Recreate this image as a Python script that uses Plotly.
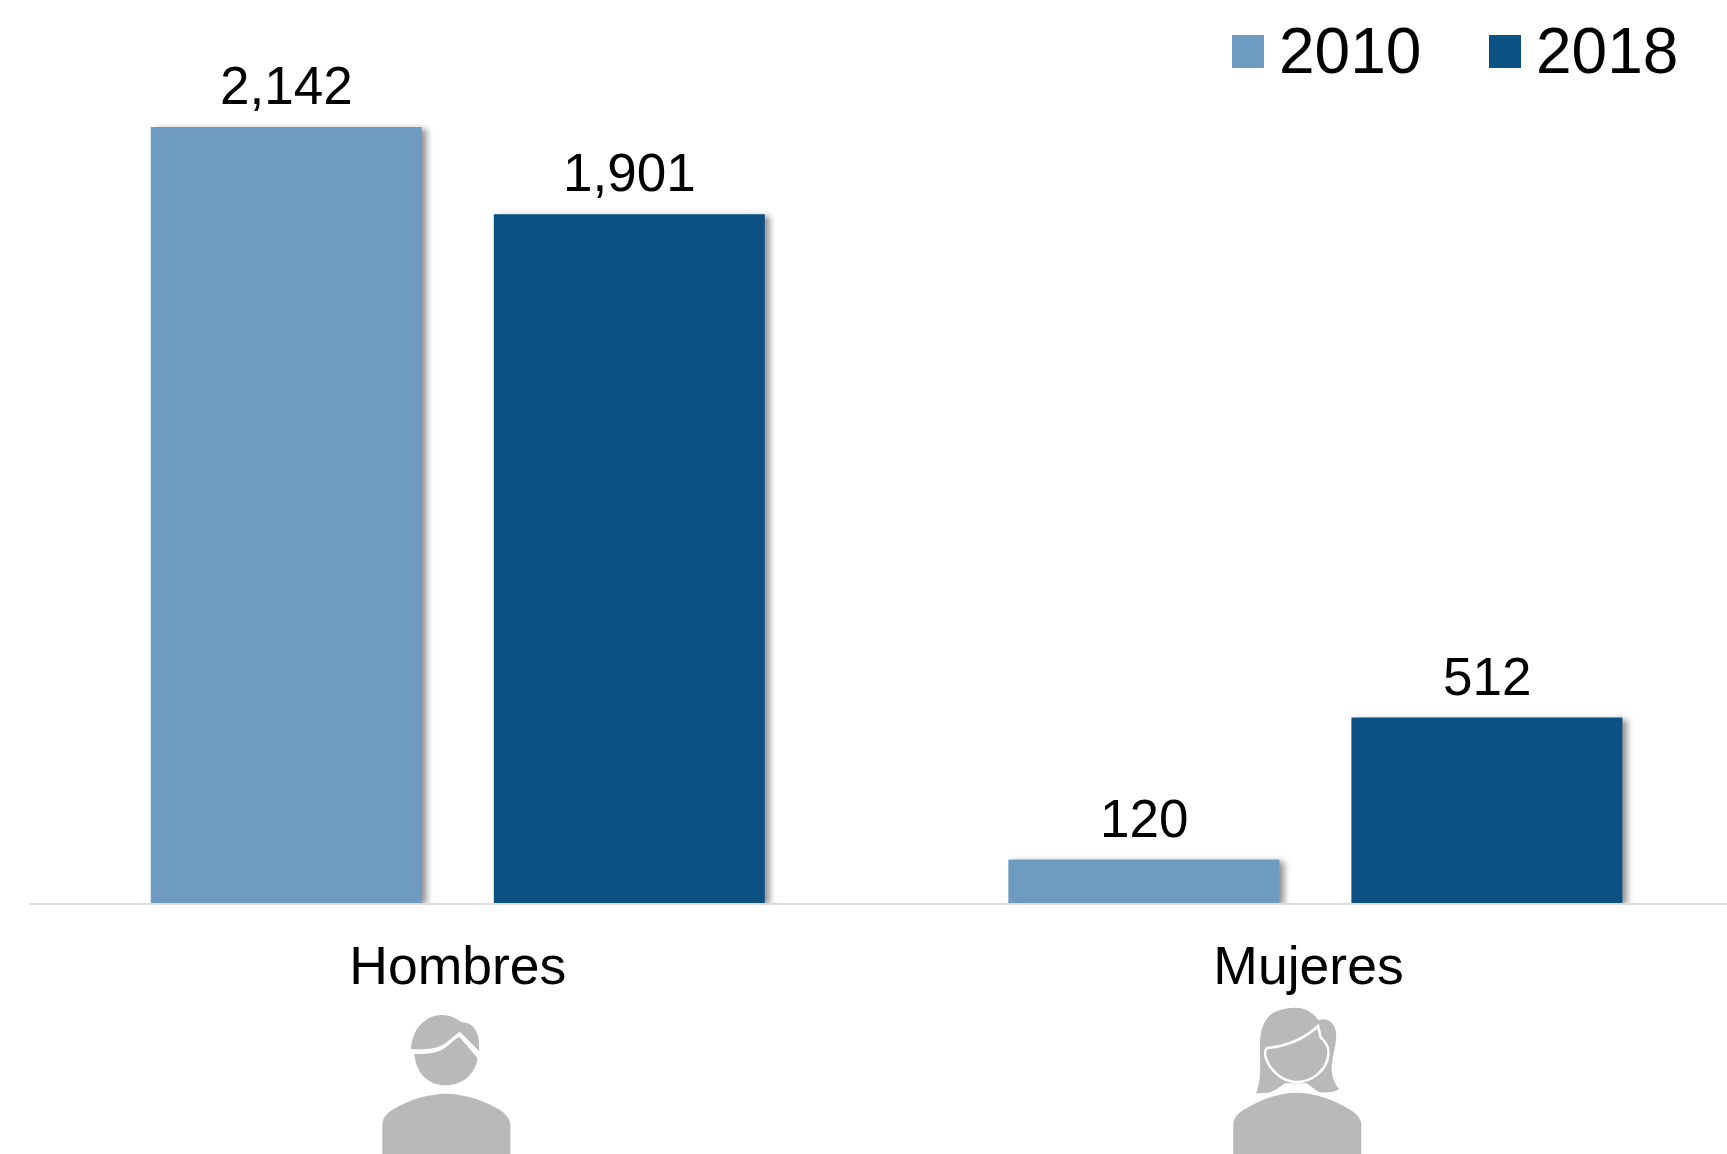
import plotly.graph_objects as go

categories = ["Hombres", "Mujeres"]
series_names = ["2010", "2018"]
values_2010 = [2142, 120]
values_2018 = [1901, 512]
color_2010 = "#6F9BC3"
color_2018 = "#0B5184"
icon_gray = "#B9B9B9"
font_name = "Liberation Sans, Arial, sans-serif"

W, H = 1727, 1154
ML, MB = 29, 251
BARGAP, GROUPGAP = 0.2, 0.21


def px(path, ox, oy, scale=1 / 3):
    """Convert a decoration path (zoom pixels) to paper coordinates."""
    out = []
    tokens = path.split()
    i = 0
    while i < len(tokens):
        t = tokens[i]
        if t.isalpha():
            out.append(t)
            i += 1
        else:
            x = ox + float(t) * scale
            y = oy + float(tokens[i + 1]) * scale
            out.append(f"{(x - ML) / (W - ML):.5f},{1 - y / (H - MB):.5f}")
            i += 2
    return " ".join(out)


def deco(path, ox, oy, fill=icon_gray, line=None, lw=0):
    return dict(type="path", xref="paper", yref="paper", path=px(path, ox, oy),
                fillcolor=fill, line=dict(color=line or fill, width=lw), layer="above")


male_hair = "M 213 207 C 215 150 255 105 305 105 C 330 105 350 115 365 127 C 395 125 415 150 417 190 L 417 213 L 360 155 C 335 170 320 195 285 203 C 265 208 235 208 213 207 Z"
male_face = "M 223 222 C 250 222 280 220 300 212 C 325 200 340 180 358 170 L 413 235 C 405 285 365 316 318 316 C 265 316 228 280 223 222 Z"
male_body = "M 127 522 L 127 435 C 127 415 140 400 160 388 C 205 360 265 341 318 341 C 375 341 440 365 480 390 C 500 403 511 418 511 435 L 511 522 Z"
female_hair = "M 198 340 C 210 310 212 280 210 230 C 208 180 210 140 235 110 C 260 85 320 75 350 90 C 365 97 378 110 385 120 C 410 112 432 125 438 155 C 442 190 425 230 425 265 C 425 295 435 310 447 328 C 430 338 405 340 385 335 C 375 330 365 320 350 310 L 285 310 C 265 325 250 335 235 338 Z"
female_face = "M 232 204 C 300 197 345 175 384 138 L 392 172 C 410 188 418 205 415 225 C 410 272 365 306 320 306 C 278 306 236 270 226 228 C 224 216 226 208 232 204 Z"
female_body = "M 130 522 L 130 435 C 130 415 143 400 163 388 C 210 360 265 338 320 338 C 375 338 440 362 482 390 C 502 403 514 418 514 435 L 514 522 Z"

shapes = [
    deco(male_hair, 340, 980), deco(male_face, 340, 980), deco(male_body, 340, 980),
    deco(female_hair, 1190, 980),
    deco(female_face, 1190, 980, line="#FFFFFF", lw=2.5),
    deco(female_body, 1190, 980),
]

# legend swatches and labels
legend_items = [(series_names[0], color_2010, 1232), (series_names[1], color_2018, 1489)]
annotations = []
for name, col, lx in legend_items:
    shapes.append(dict(type="rect", xref="paper", yref="paper",
                       x0=(lx - ML) / (W - ML), x1=(lx + 32 - ML) / (W - ML),
                       y0=1 - 68 / (H - MB), y1=1 - 35 / (H - MB),
                       fillcolor=col, line=dict(width=0)))
    annotations.append(dict(text=name, xref="paper", yref="paper", showarrow=False,
                            x=(lx + 45 - ML) / (W - ML), y=1 - 50.5 / (H - MB),
                            xanchor="left", yanchor="middle",
                            font=dict(size=64, color="#000000", family=font_name)))

x_pos = list(range(len(categories)))
slot = (1 - BARGAP) / 2
fig = go.Figure()
for k, (name, vals, col) in enumerate([(series_names[0], values_2010, color_2010),
                                       (series_names[1], values_2018, color_2018)]):
    fig.add_trace(go.Bar(x=x_pos, y=vals, name=name, marker=dict(color=col, line=dict(width=0))))
    for xp, v in zip(x_pos, vals):
        annotations.append(dict(text=f"{v:,}", x=xp + (k - 0.5) * slot, y=v, xref="x", yref="y",
                                showarrow=False, xanchor="center", yanchor="bottom", yshift=10,
                                font=dict(size=53, color="#000000", family=font_name)))

fig.update_layout(
    width=W, height=H, autosize=False, barmode="group", bargap=BARGAP, bargroupgap=GROUPGAP,
    showlegend=False, paper_bgcolor="#FFFFFF", plot_bgcolor="#FFFFFF",
    margin=dict(l=ML, r=0, t=0, b=MB, pad=0),
    font=dict(family=font_name, color="#000000"),
    shapes=shapes, annotations=annotations,
    xaxis=dict(range=[-0.5, 1.48], tickmode="array", tickvals=[0, 0.992], ticktext=categories,
               showgrid=False, zeroline=False, showline=True, linecolor="#DCDCDC", linewidth=2,
               ticks="", ticklabelstandoff=15, tickfont=dict(size=53.5, color="#000000", family=font_name)),
    yaxis=dict(range=[0, 2142 * 903 / 776], visible=False, showgrid=False, zeroline=False),
)

post = """
document.body.style.margin='0';
document.querySelectorAll('.barlayer .point path').forEach(function(p){
  p.style.filter='drop-shadow(5px 2px 3px rgba(0,0,0,0.42))';
});
"""
fig.write_html("out.html", post_script=post, config={"displayModeBar": False})
